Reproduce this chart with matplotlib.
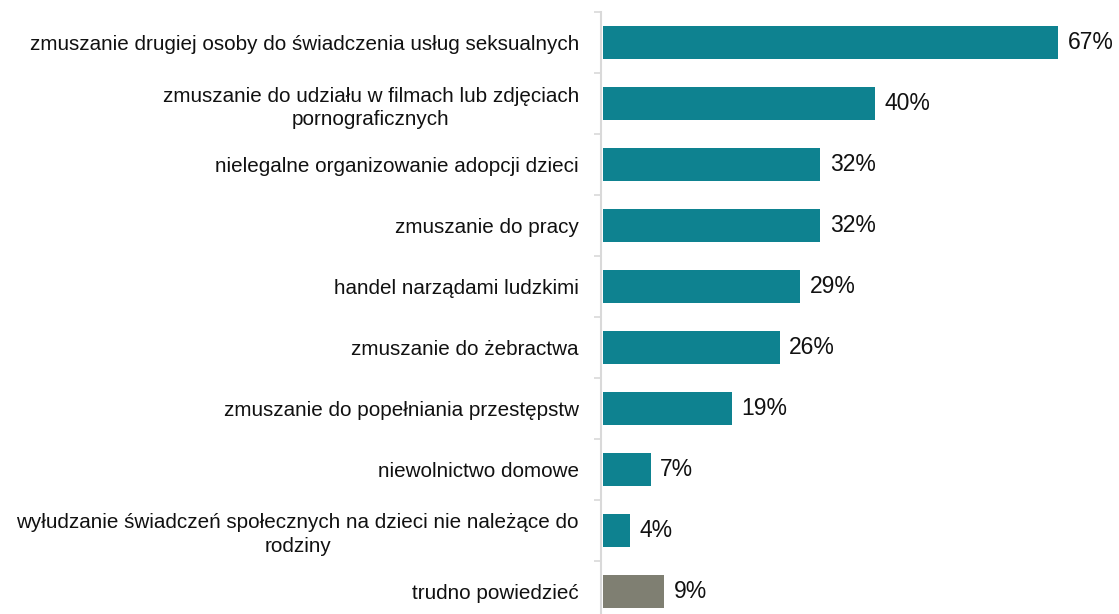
import numpy as np
import matplotlib.pyplot as plt

plt.rcParams['font.family'] = ['Liberation Sans', 'DejaVu Sans']

categories = [
    "zmuszanie drugiej osoby do świadczenia usług seksualnych",
    "zmuszanie do udziału w filmach lub zdjęciach\npornograficznych",
    "nielegalne organizowanie adopcji dzieci",
    "zmuszanie do pracy",
    "handel narządami ludzkimi",
    "zmuszanie do żebractwa",
    "zmuszanie do popełniania przestępstw",
    "niewolnictwo domowe",
    "wyłudzanie świadczeń społecznych na dzieci nie należące do\nrodziny",
    "trudno powiedzieć",
]
values = [67, 40, 32, 32, 29, 26, 19, 7, 4, 9]
colors = ["#0E8290"] * 9 + ["#7F7F72"]

W, H = 1119, 614
fig = plt.figure(figsize=(W / 100, H / 100), dpi=100)
# axes: left edge at the axis line, 61 px per category, top at y=12
ax = fig.add_axes([601 / W, (H - 622) / H, (W - 601) / W, 610 / H])

y = np.arange(len(categories))
ax.barh(y, values, height=0.54, color=colors, left=0.3)
ax.set_xlim(0, (W - 601) / 6.79)
ax.set_ylim(len(categories) - 0.5, -0.5)

for yi, v in zip(y, values):
    ax.text(v + 0.3 + 1.4, yi, f"{v}%", va="center", ha="left",
            fontsize=16.5, color="#111111")

ax.set_yticks(y)
ax.set_yticklabels(categories, fontsize=14.9, color="#111111",
                   multialignment="center", linespacing=1.3)
ax.set_yticks(np.arange(-0.5, len(categories)), minor=True)
ax.tick_params(axis="y", which="major", length=0, pad=16)
ax.tick_params(axis="y", which="minor", length=5, color="#D9D9D9", width=1.2)
ax.set_xticks([])

for s in ["top", "right", "bottom"]:
    ax.spines[s].set_visible(False)
ax.spines["left"].set_color("#D9D9D9")
ax.spines["left"].set_linewidth(1.5)

fig.savefig("out.png", dpi=100)
